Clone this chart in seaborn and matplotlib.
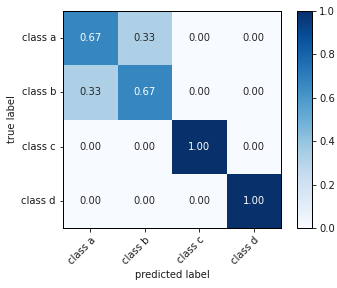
import numpy as np
import pandas as pd
import matplotlib
matplotlib.use("Agg")
import matplotlib.pyplot as plt
import seaborn as sns

classes = ["class a", "class b", "class c", "class d"]
row_a = [0.67, 0.33, 0.00, 0.00]
row_b = [0.33, 0.67, 0.00, 0.00]
row_c = [0.00, 0.00, 1.00, 0.00]
row_d = [0.00, 0.00, 0.00, 1.00]

sns.set_style("white")
plt.rcParams['font.family'] = ['DejaVu Sans']
plt.rcParams['font.size'] = 10

FS = 10
df = pd.DataFrame([row_a, row_b, row_c, row_d], index=classes, columns=classes)

fig = plt.figure(figsize=(337/72, 288/72), dpi=72)
ax = fig.add_axes([63/337, 1-228/288, (281-63)/337, (228-11)/288])
cax = fig.add_axes([297/337, 1-228/288, (312-297)/337, (228-11)/288])

sns.heatmap(df, ax=ax, cbar_ax=cax, cmap="Blues", vmin=0, vmax=1,
            annot=True, fmt=".2f", annot_kws={"fontsize": FS}, square=False)

for s in ax.spines.values():
    s.set_visible(True)
    s.set_color("black")
    s.set_linewidth(1.0)

ax.tick_params(axis="both", which="both", length=3.5, width=0.8, color="black",
               left=True, bottom=True, labelsize=FS, labelcolor="#1a1a1a")
ax.set_xticklabels(classes, rotation=45, ha="right", rotation_mode="anchor")
ax.set_yticklabels(classes, rotation=0)
ax.set_xlabel("predicted label", fontsize=FS, color="#1a1a1a")
ax.set_ylabel("true label", fontsize=FS, color="#1a1a1a")

cbar = ax.collections[0].colorbar
cbar.set_ticks([0.0, 0.2, 0.4, 0.6, 0.8, 1.0])
cbar.ax.tick_params(length=3.5, width=0.8, color="black", labelsize=FS, labelcolor="#1a1a1a", right=True)
cbar.outline.set_visible(True)
cbar.outline.set_edgecolor("black")
cbar.outline.set_linewidth(1.0)

fig.savefig("out.png", dpi=72, facecolor="white")
